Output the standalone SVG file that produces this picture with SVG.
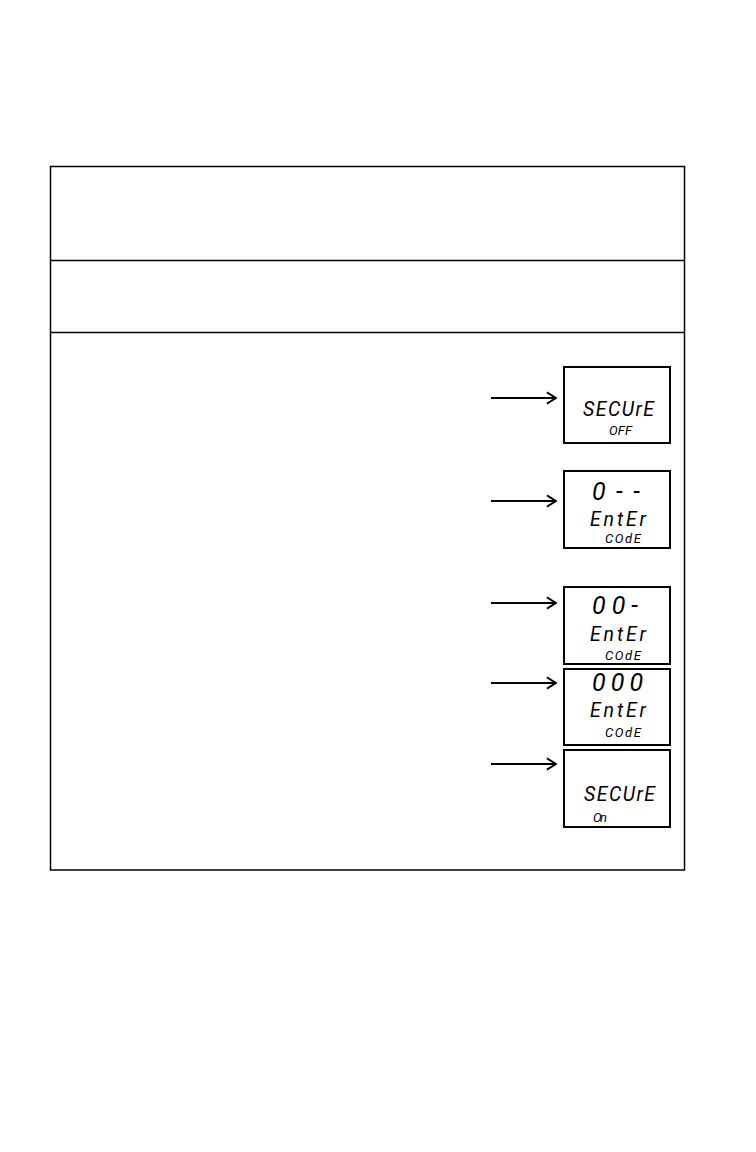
<svg xmlns="http://www.w3.org/2000/svg" width="756" height="1152" viewBox="0 0 756 1152">
<style>
.frame{fill:none;stroke:#000;stroke-width:1.5}
.lcd{fill:#fff;stroke:#000;stroke-width:2}
.seg{font-family:Roboto,"DejaVu Sans",sans-serif;font-style:italic;font-weight:400;fill:#000}
.big{font-size:25px}
.mid{font-size:19.5px}
.sm{font-size:13px}
.arr{fill:none;stroke:#000;stroke-width:2}
</style>
<defs>
<marker id="ah" viewBox="0 0 10 10" refX="9" refY="5" markerWidth="7" markerHeight="7" markerUnits="strokeWidth" orient="auto">
<path d="M2.5,1 L9,5 L2.5,9" fill="none" stroke="#000" stroke-width="1.3"/>
</marker>
</defs>
<rect width="756" height="1152" fill="#fff"/>
<g id="table">
<rect class="frame" x="50.5" y="166.5" width="634" height="703.5"/>
<line class="frame" x1="50.5" y1="260.5" x2="684.5" y2="260.5"/>
<line class="frame" x1="50.5" y1="332.5" x2="684.5" y2="332.5"/>
</g>
<g id="lcd1">
<rect class="lcd" x="564" y="367" width="106" height="76"/>
<text class="seg mid" x="583" y="416" textLength="71">SECUrE</text>
<text class="seg sm" x="609" y="435" textLength="23">OFF</text>
</g>
<g id="lcd2">
<rect class="lcd" x="564" y="471" width="106" height="77"/>
<text class="seg big" x="592" y="500" textLength="48">0--</text>
<text class="seg mid" x="590" y="526" textLength="56">EntEr</text>
<text class="seg sm" x="605" y="543" textLength="36">COdE</text>
</g>
<g id="lcd3">
<rect class="lcd" x="564" y="587" width="106" height="77"/>
<text class="seg big" x="592" y="614" textLength="46">00-</text>
<text class="seg mid" x="590" y="641" textLength="56">EntEr</text>
<text class="seg sm" x="605" y="660" textLength="36">COdE</text>
</g>
<g id="lcd4">
<rect class="lcd" x="564" y="669" width="106" height="76"/>
<text class="seg big" x="592" y="691" textLength="51">000</text>
<text class="seg mid" x="590" y="716.5" textLength="56">EntEr</text>
<text class="seg sm" x="605" y="737" textLength="36">COdE</text>
</g>
<g id="lcd5">
<rect class="lcd" x="564" y="750" width="106" height="77"/>
<text class="seg mid" x="584" y="801" textLength="71">SECUrE</text>
<text class="seg sm" x="593" y="822" textLength="14">On</text>
</g>
<g id="connectors">
<line class="arr" x1="491" y1="398" x2="556" y2="398" marker-end="url(#ah)"/>
<line class="arr" x1="491" y1="501" x2="556" y2="501" marker-end="url(#ah)"/>
<line class="arr" x1="491" y1="603" x2="556" y2="603" marker-end="url(#ah)"/>
<line class="arr" x1="491" y1="683" x2="556" y2="683" marker-end="url(#ah)"/>
<line class="arr" x1="491" y1="764" x2="556" y2="764" marker-end="url(#ah)"/>
</g>
</svg>
